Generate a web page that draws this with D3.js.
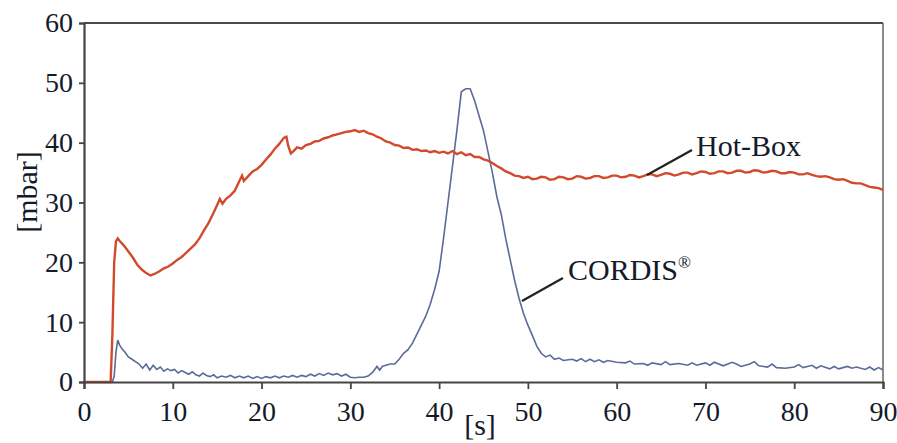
<!DOCTYPE html>
<html>
<head>
<meta charset="utf-8" />
<script src="https://d3js.org/d3.v7.min.js"></script>
<style>
body { margin: 0; background: #fff; }
svg text { font-family: "Liberation Serif", "DejaVu Serif", serif; fill: #151a2a; }
</style>
</head>
<body>
<svg id="chart" width="897" height="443"></svg>
<script>
// time [s] and pressure [mbar]
var hotBoxT = [0, 1, 2, 3, 3.2, 3.4, 3.6, 3.8, 4, 4.5, 5, 5.5, 6, 6.5, 7, 7.5, 8, 8.5, 9, 9.5,
  10, 10.5, 11, 11.5, 12, 12.5, 13, 13.5, 14, 14.5, 15, 15.3, 15.6, 16, 16.5, 17, 17.5, 17.8, 18, 18.5,
  19, 19.5, 20, 20.5, 21, 21.5, 22, 22.5, 22.8, 23, 23.3, 23.6, 24, 24.5, 25, 25.5, 26, 26.5, 27, 27.5,
  28, 28.5, 29, 29.5, 30, 30.5, 31, 31.5, 32, 32.5, 33, 33.5, 34, 34.5, 35, 35.5, 36, 36.5, 37, 37.5,
  38, 38.5, 39, 39.5, 40, 40.5, 41, 41.5, 42, 42.5, 43, 43.5, 44, 44.5, 45, 45.5, 46, 46.5, 47, 47.5,
  48, 48.5, 49, 49.5, 50, 50.5, 51, 51.5, 52, 52.5, 53, 53.5, 54, 54.5, 55, 55.5, 56, 56.5, 57, 57.5,
  58, 58.5, 59, 59.5, 60, 60.5, 61, 61.5, 62, 62.5, 63, 63.5, 64, 64.5, 65, 65.5, 66, 66.5, 67, 67.5,
  68, 68.5, 69, 69.5, 70, 70.5, 71, 71.5, 72, 72.5, 73, 73.5, 74, 74.5, 75, 75.5, 76, 76.5, 77, 77.5,
  78, 78.5, 79, 79.5, 80, 80.5, 81, 81.5, 82, 82.5, 83, 83.5, 84, 84.5, 85, 85.5, 86, 86.5, 87, 87.5,
  88, 88.5, 89, 89.5, 90];
var hotBoxP = [0, 0, 0, 0, 8, 20, 23.5, 24, 23.6, 22.8, 21.8, 20.8, 19.6, 18.8, 18.2, 17.8, 18.1, 18.5, 19, 19.3,
  19.8, 20.4, 20.9, 21.6, 22.3, 23, 24, 25.3, 26.5, 28, 29.6, 30.6, 29.8, 30.6, 31.2, 32, 33.6, 34.5, 33.6, 34.4,
  35.2, 35.6, 36.3, 37.2, 38, 39, 39.8, 40.8, 41, 39.5, 38.2, 38.6, 39.2, 39, 39.6, 39.8, 40.2, 40.3, 40.7, 40.9,
  41.2, 41.4, 41.6, 41.8, 41.9, 42.1, 41.8, 42, 41.6, 41.4, 41, 40.7, 40.2, 40, 39.6, 39.5, 39.1, 39.2, 38.8, 38.9,
  38.6, 38.7, 38.4, 38.6, 38.3, 38.5, 38.2, 38.6, 38.1, 38.4, 37.9, 38.1, 37.6, 37.6, 37.2, 37, 36.6, 36.1, 35.7, 35.2,
  34.9, 34.5, 34.4, 34.1, 34.3, 33.9, 34, 34.3, 34.2, 33.8, 33.9, 34.3, 34.2, 33.9, 34, 34.4, 34.3, 34, 34.1, 34.4,
  34.4, 34.1, 34.2, 34.5, 34.5, 34.2, 34.3, 34.6, 34.5, 34.2, 34.4, 34.7, 34.7, 34.4, 34.6, 34.9, 34.8, 34.5, 34.7, 35,
  35, 34.7, 34.9, 35.2, 35.1, 34.8, 34.9, 35.2, 35.2, 34.9, 35, 35.3, 35.3, 35, 35.1, 35.4, 35.3, 35, 35.1, 35.3,
  35.2, 34.9, 34.9, 35.1, 35, 34.7, 34.7, 34.9, 34.6, 34.4, 34.3, 34.4, 34.2, 33.9, 33.8, 33.9, 33.6, 33.3, 33.2, 33.2,
  32.9, 32.6, 32.5, 32.4, 32.1];

var cordisT = [0, 3.2, 3.4, 3.6, 3.8, 4, 4.3, 4.6, 5, 5.4, 5.8, 6.2, 6.6, 7, 7.4, 7.8, 8.2, 8.6, 9, 9.4,
  9.8, 10.2, 10.6, 11, 11.4, 11.8, 12.2, 12.6, 13, 13.4, 13.8, 14.2, 14.6, 15, 15.5, 16, 16.5, 17, 17.5, 18,
  18.5, 19, 19.5, 20, 20.5, 21, 21.5, 22, 22.5, 23, 23.5, 24, 24.5, 25, 25.5, 26, 26.5, 27, 27.5, 28,
  28.5, 29, 29.5, 30, 30.5, 31, 31.5, 32, 32.5, 33, 33.3, 33.6, 34, 34.5, 35, 35.5, 36, 36.5, 37, 37.5,
  38, 38.5, 39, 39.5, 40, 40.5, 41, 41.5, 42, 42.5, 43, 43.5, 44, 44.5, 45, 45.5, 46, 46.5, 47, 47.5,
  48, 48.5, 49, 49.5, 50, 50.5, 51, 51.5, 52, 52.5, 53, 53.5, 54, 55, 55.5, 56, 56.5, 57, 57.5, 58,
  58.5, 59, 60, 61, 61.5, 62, 63, 63.5, 64, 65, 65.5, 66, 67, 68, 68.5, 69, 70, 70.5, 71, 72,
  73, 73.5, 74, 75, 75.5, 76, 77, 77.5, 78, 79, 80, 80.5, 81, 82, 82.5, 83, 84, 84.5, 85, 86,
  86.5, 87, 88, 88.5, 89, 89.5, 90];
var cordisP = [0, 0, 1, 5, 7, 6.2, 5.5, 5, 4.2, 3.8, 3.4, 3, 2.3, 3, 2, 2.8, 2.1, 2.5, 1.8, 2.2,
  1.9, 2.1, 1.5, 1.9, 1.6, 1.3, 1.7, 1.2, 1, 1.5, 1.1, 0.9, 1.2, 0.7, 1, 0.8, 1.1, 0.7, 1, 0.7,
  1, 0.6, 0.9, 0.6, 0.9, 0.7, 1, 0.7, 1, 0.8, 1.1, 0.8, 1.1, 0.9, 1.3, 1, 1.4, 1.1, 1.5, 1.2,
  1.4, 1, 1.3, 0.8, 0.7, 0.8, 0.8, 1, 1.6, 2.6, 2, 2.6, 2.8, 3, 3, 3.8, 4.8, 5.4, 6.5, 8,
  9.5, 11, 13, 15.5, 18.5, 24, 30, 36, 42, 48.5, 49, 49, 47, 44.5, 42, 38.5, 35, 31, 28, 24,
  20.5, 17, 14, 11.5, 9.5, 7.8, 6, 4.8, 4.2, 4.5, 3.8, 4, 3.6, 3.8, 3.5, 3.9, 3.4, 3.8, 3.4, 3.7,
  3.3, 3.6, 3.3, 3.2, 3.5, 3, 3.1, 2.8, 3.2, 2.9, 3.4, 2.9, 3.1, 2.8, 3.2, 2.8, 3.2, 2.8, 3.3, 2.7,
  3.3, 3, 2.6, 3, 3.4, 2.7, 2.5, 3, 2.4, 2.3, 2.5, 2.9, 2.4, 2.8, 2.3, 2.7, 2.2, 2.6, 2.2, 2.6,
  2.3, 2.5, 2.1, 2.5, 2, 2.4, 2];

var xTicks = [0, 10, 20, 30, 40, 50, 60, 70, 80, 90];
var yTicks = [0, 10, 20, 30, 40, 50, 60];

var svg = d3.select("#chart");
var plotLeft = 84, plotRight = 883, plotTop = 23, plotBottom = 382;

var x = d3.scaleLinear().domain([0, 90]).range([plotLeft, plotRight]);
var y = d3.scaleLinear().domain([0, 60]).range([plotBottom, plotTop]);

// frame (top + right)
svg.append("line").attr("x1", plotLeft).attr("x2", plotRight).attr("y1", plotTop).attr("y2", plotTop)
  .attr("stroke", "#4a4a4a").attr("stroke-width", 2);
svg.append("line").attr("x1", plotRight).attr("x2", plotRight).attr("y1", plotTop).attr("y2", plotBottom)
  .attr("stroke", "#666").attr("stroke-width", 1.5);

var line = d3.line().x(function(d) { return x(d[0]); }).y(function(d) { return y(d[1]); });

var hotBox = hotBoxT.map(function(t, i) { return [t, hotBoxP[i]]; });
var cordis = cordisT.map(function(t, i) { return [t, cordisP[i]]; });

svg.append("path").datum(cordis).attr("d", line)
  .attr("fill", "none").attr("stroke", "#5b6a98").attr("stroke-width", 1.6);
svg.append("path").datum(hotBox).attr("d", line)
  .attr("fill", "none").attr("stroke", "#d24a2c").attr("stroke-width", 2.4);

// axes
var xAxis = svg.append("g").attr("transform", "translate(0," + plotBottom + ")")
  .call(d3.axisBottom(x).tickValues(xTicks).tickSize(7).tickPadding(12));
var yAxis = svg.append("g").attr("transform", "translate(" + plotLeft + ",0)")
  .call(d3.axisLeft(y).tickValues(yTicks).tickSize(5).tickPadding(6));

[xAxis, yAxis].forEach(function(a) {
  a.select(".domain").attr("stroke", "#444").attr("stroke-width", 2.2);
  a.selectAll(".tick line").attr("stroke", "#444").attr("stroke-width", 1.8);
  a.selectAll(".tick text").attr("font-size", 28)
    .style("font-family", "'Liberation Serif', serif").attr("fill", "#151a2a");
});

// axis titles
svg.append("text").attr("transform", "translate(37,192) rotate(-90)")
  .attr("text-anchor", "middle").attr("font-size", 30).text("[mbar]");
svg.append("text").attr("x", 480).attr("y", 435)
  .attr("text-anchor", "middle").attr("font-size", 30).text("[s]");

// curve labels with leader lines
svg.append("line").attr("x1", 692).attr("y1", 150).attr("x2", 647).attr("y2", 175)
  .attr("stroke", "#222").attr("stroke-width", 2.2);
svg.append("text").attr("x", 696).attr("y", 156).attr("font-size", 30).text("Hot-Box");

svg.append("line").attr("x1", 563).attr("y1", 278).attr("x2", 522).attr("y2", 301)
  .attr("stroke", "#222").attr("stroke-width", 2.2);
var cl = svg.append("text").attr("x", 568).attr("y", 280).attr("font-size", 30);
cl.append("tspan").text("CORDIS");
cl.append("tspan").attr("font-size", 17).attr("dy", -12).text("®");
</script>
</body>
</html>
